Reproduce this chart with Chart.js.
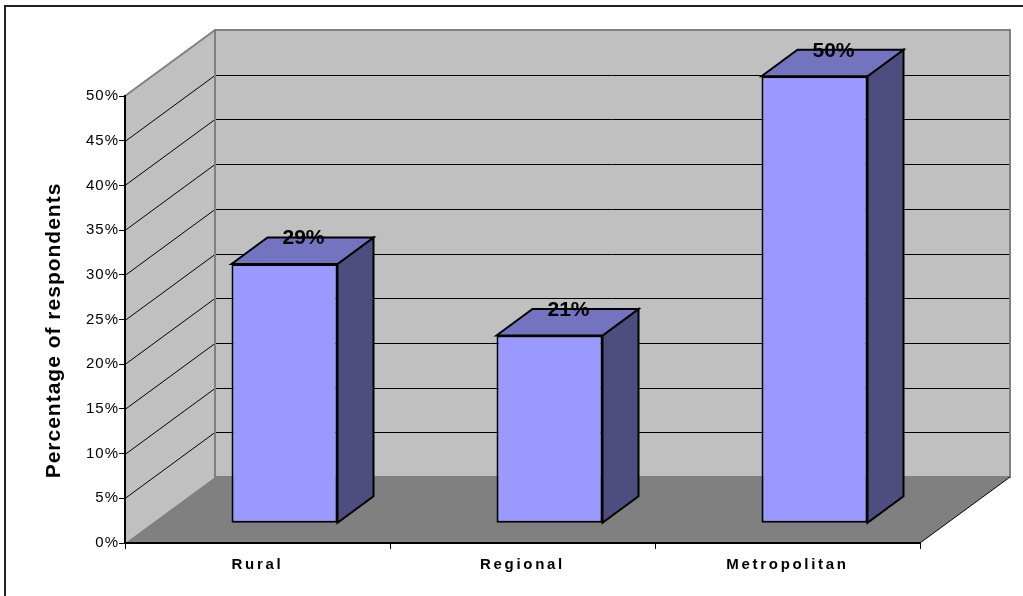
<!DOCTYPE html>
<html>
<head>
<meta charset="utf-8">
<script src="https://cdn.jsdelivr.net/npm/chart.js@4.4.1/dist/chart.umd.min.js"></script>
<style>
  html, body { margin: 0; padding: 0; background: #fff; }
  #chart { display: block; }
</style>
</head>
<body>
<canvas id="chart" width="1023" height="596"></canvas>
<script>
// ── Data ─────────────────────────────────────────────────────────────────────
const categories = ['Rural', 'Regional', 'Metropolitan'];
const respondentShare = [29, 21, 50];
const percentTicks = [0, 5, 10, 15, 20, 25, 30, 35, 40, 45, 50];
const axisTitle = 'Percentage of respondents';

const FONT = "Arial, 'Liberation Sans', sans-serif";

// Excel-style 3D box: depth of the walls and where the bars sit in it
const DEPTH_X = 90;
const DEPTH_Y = -66;
const BAR_FRONT = 0.3;
const BAR_DEPTH = 0.4;

const Colors = {
  wall:    '#C0C0C0',
  floor:   '#808080',
  edge:    '#808080',
  grid:    '#000000',
  front:   '#9999FF',
  top:     '#7373BF',
  side:    '#4D4D80',
};

// letter spacing per axis (Excel spreads the glyphs a bit)
const LabelSpacing = { x: '2.7px', y: '1px' };

function poly(ctx, pts, fill, stroke, width) {
  ctx.beginPath();
  ctx.moveTo(pts[0][0], pts[0][1]);
  for (let i = 1; i < pts.length; i++) ctx.lineTo(pts[i][0], pts[i][1]);
  ctx.closePath();
  if (fill) { ctx.fillStyle = fill; ctx.fill(); }
  if (stroke) { ctx.strokeStyle = stroke; ctx.lineWidth = width || 1; ctx.stroke(); }
}

function line(ctx, x1, y1, x2, y2, color, width) {
  ctx.beginPath();
  ctx.moveTo(x1, y1);
  ctx.lineTo(x2, y2);
  ctx.strokeStyle = color;
  ctx.lineWidth = width || 1;
  ctx.stroke();
}

// Walls, floor, gridlines and the rotated axis title
const box3d = {
  id: 'box3d',
  afterLayout(chart) {
    Object.keys(LabelSpacing).forEach(id => {
      const scale = chart.scales[id];
      if (!scale || scale._spaced) return;
      const orig = scale.drawLabels;
      scale.drawLabels = function (area) {
        this.ctx.save();
        this.ctx.letterSpacing = LabelSpacing[id];
        orig.call(this, area);
        this.ctx.restore();
      };
      scale._spaced = true;
    });
  },
  beforeDraw(chart) {
    const { ctx, chartArea: a, scales: { y } } = chart;
    const y0 = y.getPixelForValue(percentTicks[0]);
    const yMax = y.getPixelForValue(percentTicks[percentTicks.length - 1]);
    ctx.save();

    // outer frame (only top/left visible in the picture)
    ctx.strokeStyle = '#222';
    ctx.lineWidth = 2;
    ctx.strokeRect(5, 6, chart.width + 40, chart.height + 40);

    // back wall
    poly(ctx, [
      [a.left + DEPTH_X, yMax + DEPTH_Y], [a.right + DEPTH_X, yMax + DEPTH_Y],
      [a.right + DEPTH_X, y0 + DEPTH_Y], [a.left + DEPTH_X, y0 + DEPTH_Y],
    ], Colors.wall);
    // left wall
    poly(ctx, [
      [a.left, y0], [a.left + DEPTH_X, y0 + DEPTH_Y],
      [a.left + DEPTH_X, yMax + DEPTH_Y], [a.left, yMax],
    ], Colors.wall);
    // floor
    poly(ctx, [
      [a.left, y0], [a.right, y0],
      [a.right + DEPTH_X, y0 + DEPTH_Y], [a.left + DEPTH_X, y0 + DEPTH_Y],
    ], Colors.floor);

    // gridlines on both walls
    percentTicks.slice(1, -1).forEach(v => {
      const py = Math.round(y.getPixelForValue(v)) + 0.5;
      line(ctx, a.left, py, a.left + DEPTH_X, py + DEPTH_Y, Colors.grid, 1);
      line(ctx, a.left + DEPTH_X, py + DEPTH_Y, a.right + DEPTH_X, py + DEPTH_Y, Colors.grid, 1);
    });

    // wall edges
    const bx = a.left + DEPTH_X, bt = yMax + DEPTH_Y, bb = y0 + DEPTH_Y;
    line(ctx, a.left, yMax, bx, bt, Colors.edge, 2);
    ctx.strokeStyle = Colors.edge;
    ctx.lineWidth = 2;
    ctx.strokeRect(bx, bt, a.right - a.left, bb - bt);
    line(ctx, a.right, y0, a.right + DEPTH_X, bb, '#000', 1);

    // y axis title
    ctx.translate(60, (a.top + a.bottom) / 2 + 11);
    ctx.rotate(-Math.PI / 2);
    ctx.font = 'bold 21px ' + FONT;
    ctx.letterSpacing = '1px';
    ctx.fillStyle = '#000';
    ctx.textAlign = 'center';
    ctx.textBaseline = 'alphabetic';
    ctx.fillText(axisTitle, 0, 0);
    ctx.restore();
  },
  beforeDatasetsDraw(chart) {
    const { ctx } = chart;
    ctx.save();
    ctx.translate(DEPTH_X * BAR_FRONT, DEPTH_Y * BAR_FRONT);
  },
  afterDatasetsDraw(chart) {
    const { ctx } = chart;
    const dx = DEPTH_X * BAR_DEPTH;
    const dy = DEPTH_Y * BAR_DEPTH;
    const meta = chart.getDatasetMeta(0);
    ctx.lineJoin = 'miter';
    meta.data.forEach((bar, i) => {
      const { x, y, base, width } = bar.getProps(['x', 'y', 'base', 'width'], true);
      const l = x - width / 2, r = x + width / 2;
      poly(ctx, [[r, y], [r + dx, y + dy], [r + dx, base + dy], [r, base]], Colors.side, '#000', 2);
      poly(ctx, [[l, y], [l + dx, y + dy], [r + dx, y + dy], [r, y]], Colors.top, '#000', 2);

      ctx.font = 'bold 21px ' + FONT;
      ctx.letterSpacing = '0px';
      ctx.fillStyle = '#000';
      ctx.textAlign = 'center';
      ctx.textBaseline = 'middle';
      ctx.fillText(respondentShare[i] + '%', x + dx / 2 + 1, y + dy + 1);
    });
    ctx.restore();
  },
};

new Chart(document.getElementById('chart').getContext('2d'), {
  type: 'bar',
  data: {
    labels: categories,
    datasets: [{
      data: respondentShare,
      backgroundColor: Colors.front,
      borderColor: '#000',
      borderWidth: 2,
      borderSkipped: false,
      barPercentage: 0.4,
      categoryPercentage: 1,
      clip: false,
    }],
  },
  options: {
    responsive: false,
    animation: false,
    events: [],
    layout: { padding: { top: 96, right: 103, left: 0, bottom: 0 } },
    plugins: {
      legend: { display: false },
      tooltip: { enabled: false },
    },
    scales: {
      x: {
        afterFit: s => { s.height = 53; },
        grid: { drawOnChartArea: false, offset: true, tickLength: 6, color: '#000', lineWidth: 1 },
        border: { display: true, color: '#000', width: 2 },
        ticks: { color: '#000', padding: 7, font: { family: FONT, size: 15, weight: 'bold' } },
      },
      y: {
        min: 0,
        max: 50,
        afterBuildTicks: s => { s.ticks = percentTicks.map(v => ({ value: v })); },
        afterFit: s => { s.width = 125; },
        grid: { drawOnChartArea: false, tickLength: 6, color: '#000', lineWidth: 1 },
        border: { display: true, color: '#000', width: 2 },
        ticks: { color: '#000', padding: 0, font: { family: FONT, size: 15 }, callback: v => v + '%' },
      },
    },
  },
  plugins: [box3d],
});
</script>
</body>
</html>
